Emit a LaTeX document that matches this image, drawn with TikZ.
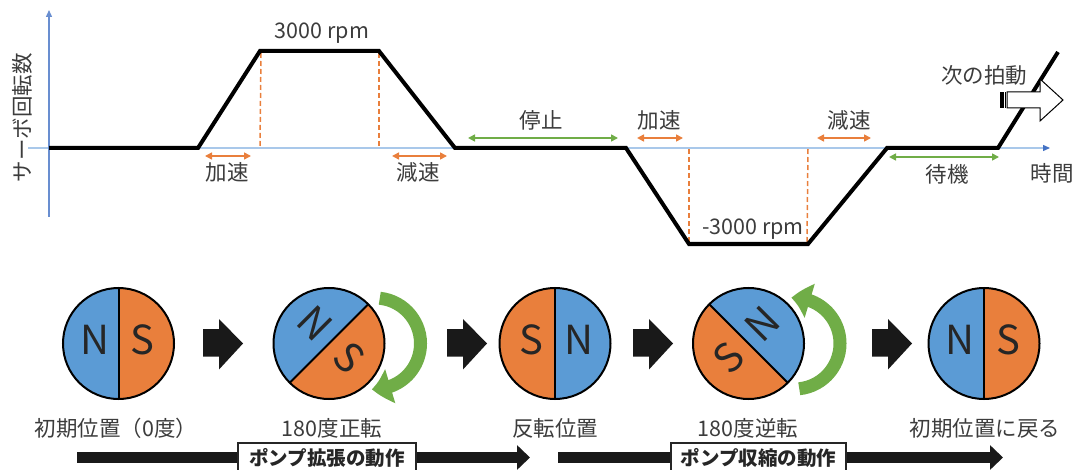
\documentclass[tikz,border=0pt]{standalone}
\usepackage{fontspec}
\setmainfont{Noto Sans CJK JP}
\usetikzlibrary{arrows.meta,calc,bending}
\definecolor{mblue}{HTML}{5B9BD5}
\definecolor{morange}{HTML}{E97F3C}
\definecolor{mgreen}{HTML}{70AD47}
\definecolor{axblue}{HTML}{4472C4}
\definecolor{axlight}{HTML}{A9C8EA}
\definecolor{txt}{HTML}{3C3C3C}
\tikzset{
  lbl/.style={font=\fontsize{21.5}{25}\selectfont, text=txt, inner sep=0pt},
  maglbl/.style={font=\fontsize{40}{44}\selectfont, text=black!85, inner sep=0pt, transform shape},
  speed/.style={line width=4pt, black},
  dashv/.style={draw=morange, line width=1.5pt, dash pattern=on 5pt off 3pt},
  ospan/.style={draw=morange, line width=1.6pt, {Triangle[length=7pt,width=7pt]}-{Triangle[length=7pt,width=7pt]}},
  gspan/.style={draw=mgreen, line width=1.6pt, {Triangle[length=7pt,width=7pt]}-{Triangle[length=7pt,width=7pt]}},
  garrow/.style={draw=mgreen, line width=13pt, -{Triangle[length=19pt,width=34pt,bend]}},
  blockarrow/.style={fill=black!90},
  barrow/.style={draw=black!90, line width=11pt, -{Triangle[length=13pt,width=24pt]}},
  actbox/.style={draw=black!85, fill=white, line width=1.3pt, minimum height=30pt, inner sep=0pt,
    font=\fontsize{19.5}{23}\selectfont\bfseries, text=black!85},
}
\newcommand{\mymagnet}[7]{%
  \begin{scope}[shift={#1}, rotate=#2]
    \fill[#3] (90:55.5) arc[start angle=90, end angle=270, radius=55.5] -- cycle;
    \fill[#4] (-90:55.5) arc[start angle=-90, end angle=90, radius=55.5] -- cycle;
    \draw[line width=2pt] (0,-55.5) -- (0,55.5);
    \draw[line width=2pt] (0,0) circle[radius=55.5];
    \node[maglbl] (#7l) at (-24,-4) {#5};
    \node[maglbl] (#7r) at (24,-4) {#6};
  \end{scope}}
\newcommand{\myblock}[1]{%
  \fill[blockarrow] ($(#1)+(0,-14.5)$) -- ++(16,0) -- ++(0,-10) -- ($(#1)+(40,0)$) -- ($(#1)+(16,26)$) -- ++(0,-13) -- ++(-16,0) -- cycle;}
\begin{document}
\begin{tikzpicture}[x=1pt,y=-1pt]
\useasboundingbox (0,0) rectangle (1075,470);
\clip (0,0) rectangle (1075,470);

% axes
\coordinate (ax0) at (28,148);
\coordinate (ax1) at (1050,148);
\coordinate (ay0) at (49,217);
\coordinate (ay1) at (49,10);
\draw[draw=axlight, line width=1.3pt, -{Triangle[length=7pt,width=6pt,color=axblue]}] (ax0) -- (ax1);
\draw[draw=axblue!80, line width=1.3pt, -{Triangle[length=7pt,width=6pt]}] (ay0) -- (ay1);
\node[lbl, rotate=90] (ylab) at (22,118) {サーボ回転数};
\node[lbl] (tlab) at (1052,173) {時間};

% speed profile
\coordinate (p0) at (49,148);
\coordinate (p1) at (198,148);
\coordinate (p2) at (260,51);
\coordinate (p3) at (379,51);
\coordinate (p4) at (455,148);
\coordinate (p5) at (626,148);
\coordinate (p6) at (689,244);
\coordinate (p7) at (808,244);
\coordinate (p8) at (887,148);
\coordinate (p9) at (998,148);
\coordinate (p10) at (1058,52);
\draw[dashv] ($(p2)+(1,2)$) -- (p2 |- p0);
\draw[dashv] ($(p3)+(0,2)$) -- (p3 |- p0);
\draw[dashv] ($(p6)+(0,-2)$) -- (p6 |- p0);
\draw[dashv] ($(p7)+(-1,-2)$) -- (p7 |- p0);
\draw[speed] (p0) -- (p1) -- (p2) -- (p3) -- (p4) -- (p5) -- (p6) -- (p7) -- (p8) -- (p9) -- (p10);

\node[lbl] (rpmhi) at (322,33) {3000 rpm};
\node[lbl] (rpmlo) at (753,229) {-3000 rpm};

% spans
\coordinate (s1a) at (205,156); \coordinate (s1b) at (251,156);
\coordinate (s2a) at (392,156); \coordinate (s2b) at (447,156);
\coordinate (s3a) at (468,138); \coordinate (s3b) at (618,138);
\coordinate (s4a) at (637,138); \coordinate (s4b) at (683,138);
\coordinate (s5a) at (817,138); \coordinate (s5b) at (871,138);
\coordinate (s6a) at (889,157); \coordinate (s6b) at (999,157);
\draw[ospan] (s1a) -- (s1b);
\draw[ospan] (s2a) -- (s2b);
\draw[gspan] (s3a) -- (s3b);
\draw[ospan] (s4a) -- (s4b);
\draw[ospan] (s5a) -- (s5b);
\draw[gspan] (s6a) -- (s6b);
\node[lbl] (l1) at (227,172) {加速};
\node[lbl] (l2) at (418,172) {減速};
\node[lbl] (l3) at (541,120) {停止};
\node[lbl] (l4) at (659,120) {加速};
\node[lbl] (l5) at (849,120) {減速};
\node[lbl] (l6) at (947,174) {待機};

% next beat
\node[lbl] (nb) at (984,75) {次の拍動};
\fill[black] (1000,92) rectangle (1003.5,108);
\fill[black] (1004.5,92) rectangle (1006,108);
\draw[fill=white, line width=1pt] (1007,92) -- (1040,92) -- (1040,79) -- (1063,100) -- (1040,121) -- (1040,108) -- (1007,108) -- cycle;

% magnets
\coordinate (c1) at (118.5,343.5);
\coordinate (c2) at (329,343.5);
\coordinate (c3) at (555,343.5);
\coordinate (c4) at (748.5,343.5);
\coordinate (c5) at (984,343.5);
\mymagnet{(c1)}{0}{mblue}{morange}{N}{S}{m1}
\mymagnet{(c2)}{-45}{mblue}{morange}{N}{S}{m2}
\mymagnet{(c3)}{0}{morange}{mblue}{S}{N}{m3}
\mymagnet{(c4)}{45}{morange}{mblue}{S}{N}{m4}
\mymagnet{(c5)}{0}{mblue}{morange}{N}{S}{m5}

% rotation arrows
\coordinate (g2) at (375,343.5);
\coordinate (g4) at (794.5,343.5);
\draw[garrow] ([shift={(-84:45.5)}]g2) arc[start angle=-84, end angle=94, radius=45.5];
\draw[garrow] ([shift={(84:45.5)}]g4) arc[start angle=84, end angle=-94, radius=45.5];

% block arrows
\coordinate (k1) at (203,343.5);
\coordinate (k2) at (447,343.5);
\coordinate (k3) at (633,343.5);
\coordinate (k4) at (872,343.5);
\myblock{k1}
\myblock{k2}
\myblock{k3}
\myblock{k4}

% labels under magnets
\node[lbl] (t1) at (116,428) {初期位置（0度）};
\node[lbl] (t2) at (332,428) {180度正転};
\node[lbl] (t3) at (555,428) {反転位置};
\node[lbl] (t4) at (748,428) {180度逆転};
\node[lbl] (t5) at (985,428) {初期位置に戻る};

% action arrows
\coordinate (a1s) at (77,457.5);
\coordinate (a1e) at (530,457.5);
\coordinate (a2s) at (558,457.5);
\coordinate (a2e) at (1003,457.5);
\draw[barrow] (a1s) -- (a1e);
\draw[barrow] (a2s) -- (a2e);
\node[actbox, minimum width=178pt] (box1) at (327,458) {ポンプ拡張の動作};
\node[actbox, minimum width=175pt] (box2) at (758.5,458) {ポンプ収縮の動作};
\end{tikzpicture}
\end{document}
